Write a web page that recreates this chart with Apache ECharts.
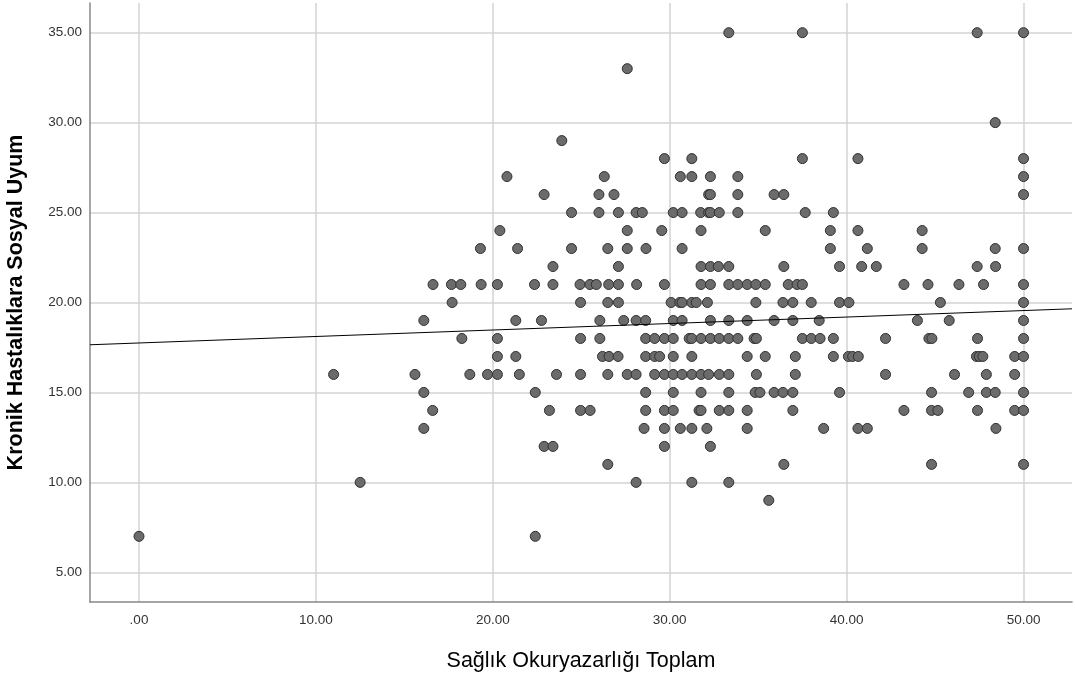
<!DOCTYPE html>
<html>
<head>
<meta charset="utf-8">
<script src="https://cdn.jsdelivr.net/npm/echarts@6/dist/echarts.min.js"></script>
<style>
html,body{margin:0;padding:0;background:#fff;}
#chart{width:1075px;height:678px;}
</style>
</head>
<body>
<div id="chart"></div>
<script>
// Y levels (Kronik Hastalıklara Sosyal Uyum) and the x values (Sağlık Okuryazarlığı Toplam) found at each level
const yLevels = [35, 33, 30, 29, 28, 27, 26, 25, 24, 23, 22, 21, 20, 19, 18, 17, 16, 15, 14, 13, 12, 11, 10, 9, 7];
const xAt35 = [33.34, 37.5, 47.38, 50];
const xAt33 = [27.6];
const xAt30 = [48.4];
const xAt29 = [23.9];
const xAt28 = [29.7, 31.25, 37.5, 40.64, 50];
const xAt27 = [20.8, 26.3, 30.6, 31.25, 32.3, 33.85, 50];
const xAt26 = [22.9, 26.0, 26.85, 32.2, 32.3, 33.85, 35.9, 36.45, 50];
const xAt25 = [24.45, 26.0, 27.1, 28.1, 28.45, 30.2, 30.7, 31.75, 32.2, 32.3, 32.8, 33.85, 37.66, 39.25];
const xAt24 = [20.4, 27.6, 29.55, 31.77, 35.4, 39.08, 40.64, 44.27];
const xAt23 = [19.3, 21.4, 24.45, 26.5, 27.6, 28.66, 30.7, 39.08, 41.17, 44.27, 48.4, 50];
const xAt22 = [23.4, 27.1, 31.77, 32.3, 32.75, 33.34, 36.45, 39.6, 40.85, 41.68, 47.38, 48.42];
const xAt21 = [16.62, 17.66, 18.19, 19.34, 20.26, 22.36, 23.4, 24.93, 25.49, 25.85, 26.55, 27.1, 28.13, 29.7, 31.77, 32.3, 33.34, 33.85, 34.38, 34.87, 35.4, 36.7, 37.2, 37.5, 43.24, 44.6, 46.35, 47.74, 50];
const xAt20 = [17.7, 24.96, 26.5, 27.1, 30.08, 30.57, 30.7, 31.25, 31.5, 32.13, 34.87, 36.4, 36.96, 38.0, 39.6, 40.13, 45.3, 50];
const xAt19 = [16.1, 21.3, 22.75, 26.05, 27.4, 28.1, 28.64, 30.2, 30.7, 32.3, 33.34, 34.38, 35.9, 36.96, 38.45, 44.0, 45.8, 50];
const xAt18 = [18.25, 20.26, 24.96, 26.05, 28.64, 29.15, 29.7, 30.2, 31.1, 31.25, 31.77, 32.3, 32.8, 33.34, 33.85, 34.77, 34.9, 37.5, 38.0, 38.5, 39.25, 42.2, 44.65, 44.82, 47.4, 50];
const xAt17 = [20.26, 21.3, 26.2, 26.57, 27.08, 28.64, 29.15, 29.43, 30.2, 31.25, 34.38, 35.4, 37.1, 39.25, 40.1, 40.34, 40.66, 47.34, 47.5, 47.7, 49.5, 50];
const xAt16 = [11.0, 15.6, 18.7, 19.7, 20.26, 21.5, 23.6, 24.96, 26.5, 27.6, 28.1, 29.15, 29.7, 30.2, 30.7, 31.25, 31.77, 32.2, 32.8, 33.34, 34.9, 37.1, 42.2, 46.1, 47.9, 49.5];
const xAt15 = [16.1, 22.4, 28.64, 30.2, 31.77, 33.34, 34.83, 35.1, 35.9, 36.4, 36.96, 39.6, 44.8, 46.9, 47.9, 48.4, 50];
const xAt14 = [16.6, 23.2, 24.96, 25.5, 28.64, 29.7, 30.2, 31.66, 31.77, 32.8, 33.34, 34.38, 36.96, 43.24, 44.8, 45.16, 47.4, 49.5, 50];
const xAt13 = [16.1, 28.55, 29.7, 30.6, 31.25, 32.1, 34.38, 38.7, 40.64, 41.17, 48.44];
const xAt12 = [22.9, 23.4, 29.7, 32.3];
const xAt11 = [26.5, 36.45, 44.8, 50];
const xAt10 = [12.5, 28.1, 31.25, 33.34];
const xAt9 = [35.6];
const xAt7 = [0, 22.4];
const xByLevel = [xAt35, xAt33, xAt30, xAt29, xAt28, xAt27, xAt26, xAt25, xAt24, xAt23, xAt22, xAt21, xAt20, xAt19, xAt18, xAt17, xAt16, xAt15, xAt14, xAt13, xAt12, xAt11, xAt10, xAt9, xAt7];

// Fit line end points (read at the plot edges)
const fitX = [-2.77, 52.74];
const fitY = [17.65, 19.65];

const xAxisRange = [-2.77, 52.74];
const yAxisRange = [3.35, 36.65];
const xTitle = 'Sağlık Okuryazarlığı Toplam';
const yTitle = 'Kronik Hastalıklara Sosyal Uyum';

const points = [];
yLevels.forEach((y, i) => xByLevel[i].forEach(x => points.push([x, y])));
const fitData = fitX.map((x, i) => [x, fitY[i]]);

const fmt = v => (v === 0 ? '.00' : v.toFixed(2));
const FONT = '"Liberation Sans", Arial, sans-serif';

const chart = echarts.init(document.getElementById('chart'), null, { renderer: 'canvas' });
chart.setOption({
  animation: false,
  backgroundColor: '#ffffff',
  grid: { left: 90, right: 3, top: 3, bottom: 76, containLabel: false, outerBoundsMode: 'none' },
  xAxis: {
    type: 'value',
    min: xAxisRange[0],
    max: xAxisRange[1],
    splitNumber: 5,
    name: xTitle,
    nameLocation: 'middle',
    nameGap: 48,
    nameTextStyle: { fontFamily: FONT, fontSize: 21.5, color: '#000' },
    axisLine: { show: true, onZero: false, lineStyle: { color: '#888888', width: 1.5 } },
    axisTick: { show: false },
    axisLabel: { fontFamily: FONT, fontSize: 13.5, color: '#333', margin: 11, formatter: fmt, showMinLabel: false, showMaxLabel: false },
    splitLine: { show: true, showMinLine: false, showMaxLine: false, lineStyle: { color: '#d3d3d3', width: 1.5 } }
  },
  yAxis: {
    type: 'value',
    min: yAxisRange[0],
    max: yAxisRange[1],
    splitNumber: 6,
    name: yTitle,
    nameLocation: 'middle',
    nameGap: 63,
    nameTextStyle: { fontFamily: FONT, fontSize: 21.5, fontWeight: 'bold', color: '#000' },
    axisLine: { show: true, onZero: false, lineStyle: { color: '#888888', width: 1.5 } },
    axisTick: { show: false },
    axisLabel: { fontFamily: FONT, fontSize: 13.5, color: '#333', margin: 8, formatter: fmt, showMinLabel: false, showMaxLabel: false },
    splitLine: { show: true, showMinLine: false, showMaxLine: false, lineStyle: { color: '#d3d3d3', width: 1.5 } }
  },
  series: [
    {
      type: 'scatter',
      data: points,
      symbol: 'circle',
      symbolSize: 10,
      itemStyle: { color: '#6b6b6b', borderColor: '#303030', borderWidth: 1, opacity: 1 },
      z: 3
    },
    {
      type: 'line',
      data: fitData,
      showSymbol: false,
      symbol: 'none',
      lineStyle: { color: '#000000', width: 1 },
      z: 4,
      silent: true
    }
  ]
});
</script>
</body>
</html>
